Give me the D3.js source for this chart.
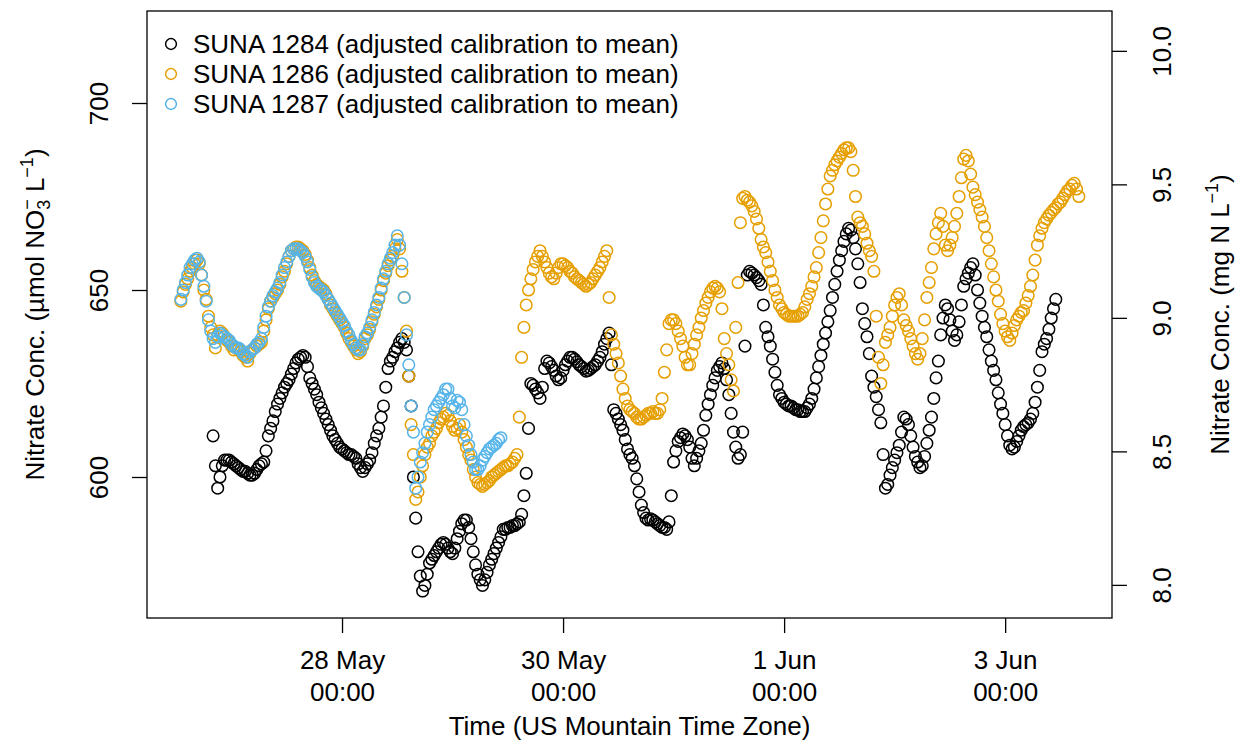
<!DOCTYPE html>
<html>
<head>
<meta charset="utf-8">
<script src="https://cdn.jsdelivr.net/npm/d3@7"></script>
<style>
	body { margin: 0; background: #fff; }
	text { font-family: "Liberation Sans", Arial, Helvetica, sans-serif; fill: #000; }
</style>
</head>
<body>
<script>
// half-hourly readings, umol NO3- per litre
var stepHours = 0.5;

var suna1284Start = '2019-05-26T20:00:00Z';
var suna1284 = [
	611, 603, 597, 600, 603, 604.5, 604.5, 604.5, 604, 603.5,
	603, 602.5, 602, 601.5, 601.5, 601, 600.5, 600.5, 601, 602,
	603, 603.5, 604, 607, 611, 613, 615, 617.5, 619.5, 621,
	622.5, 624, 625, 626, 627.5, 629, 630.5, 631.5, 632, 632.5,
	632, 629.5, 626.5, 625, 623.5, 622, 620, 618.5, 617, 615.5,
	614, 612.5, 611, 610, 609, 608, 607.5, 607, 606.5, 606,
	606, 605.5, 605, 603.5, 602.5, 601.5, 602.5, 603.5, 604.5, 606.5,
	609, 611, 613, 616, 619, 624, 629, 631, 632, 633.5,
	634.5, 636, 637, 636, 634, 627, 619, 600, 589, 580,
	573.5, 569.5, 571, 574, 577, 578, 579, 580, 581, 582,
	582.5, 582, 581, 580, 579.5, 581, 583.5, 585.5, 587.5, 588.5,
	588.5, 586.5, 583.5, 580, 576.5, 574, 572.5, 571, 572.5, 574.5,
	576.5, 578, 579.5, 581, 582.5, 584, 586, 586, 586.5, 586.5,
	587, 587, 587.5, 588, 590, 595, 601, 613, 625, 624.5,
	623.5, 622.5, 621, 624, 629, 631, 630.5, 629.5, 628.5, 627,
	626, 626.5, 628.5, 630, 631, 632, 632, 631.5, 630.8, 630,
	629.5, 629, 628.3, 628.5, 629, 629.5, 630, 631, 632, 633.5,
	635.5, 637, 638.5, 630, 618, 617, 615.5, 614, 612.5, 610,
	607.5, 606, 605, 603, 599.5, 596, 592.5, 590.5, 589, 588.5,
	588.8, 588.5, 588, 587.5, 587, 586.5, 586.5, 586, 588, 595,
	604, 607, 609.5, 610.5, 611.5, 611, 610, 608, 605, 603,
	605, 607, 609, 612.5, 616.5, 619.5, 622, 624.5, 626.5, 628.5,
	629.5, 630.5, 629, 626, 622, 617, 612, 608, 605, 606,
	612, 635, 654, 655, 654.5, 654, 653.3, 652.5, 651.5, 646,
	640, 637.5, 635, 631.5, 628, 624.5, 622, 621, 620, 619.5,
	619, 619, 618.5, 618, 618, 617.5, 617.5, 617.5, 618.5, 619.5,
	621, 623.5, 626.5, 629.5, 632.5, 635.5, 638.5, 641.5, 644.5, 648,
	651.5, 655, 658, 660.5, 663, 665, 666.5, 666, 664, 661,
	657, 652, 645, 641, 637.5, 633, 627, 624, 621.5, 618,
	614.5, 606, 597, 598, 600.5, 602.5, 604.5, 606.5, 608.5, 612,
	616, 615.5, 614, 611, 608, 605.5, 604, 602.5, 603, 605.5,
	609, 612.5, 616, 621, 626.5, 631, 638, 642.5, 646, 645,
	642, 639, 636.5, 638, 641.5, 646, 651, 653, 654.5, 656,
	657, 654, 650, 646.5, 643, 640, 637.5, 634, 631, 628.5,
	626, 622.5, 619.5, 617, 614, 611, 608.5, 607.5, 608, 609.5,
	611, 612.5, 613.5, 614, 614.5, 615.5, 617, 620, 624, 628.5,
	633.5, 635.5, 637, 639.5, 642.5, 645, 647.5
];

var suna1286Start = '2019-05-26T13:00:00Z';
var suna1286 = [
	647, 649.5, 651.5, 653, 655, 656, 657, 658, 657, 654,
	650, 647.5, 643, 640, 638, 634.5, 638, 639, 638.5, 637.5,
	636.5, 636, 635, 634, 634.5, 634, 633.5, 632.5, 632, 631,
	633, 634, 634.5, 635, 635.5, 636, 639, 642, 645, 647,
	648, 649, 650, 651.5, 653.5, 655, 657, 659, 660.5, 661,
	661.5, 661.5, 661, 660.5, 659.5, 658, 656, 654, 652.5, 651.5,
	651, 650.5, 650, 649, 647.5, 646, 645, 644, 643, 642,
	641, 640, 638.5, 637, 636, 635, 634, 633, 633.5, 635,
	637, 638, 639.5, 641.5, 643.5, 645.5, 647.5, 650, 652.5, 654.5,
	656.5, 658, 659, 661, 663.5, 661, 655, 648, 639, 627,
	614, 606, 594, 596, 600, 603, 606, 608, 609, 611,
	612, 613, 614.5, 615.5, 616, 617, 616.5, 615, 613.5, 612.5,
	613, 614, 612, 610, 608, 606, 604.5, 602, 600, 598.5,
	598, 597.5, 598, 598.5, 599, 600, 600.5, 601, 601.5, 602,
	602.5, 603, 603, 603.5, 604, 605, 606, 616, 632, 640,
	646, 650, 653, 655.5, 657.5, 659, 660.5, 659, 657.5, 656,
	654.5, 653.5, 653, 654.5, 656, 657, 657, 656.5, 656, 655,
	654.5, 653.5, 653, 652.5, 652, 651.5, 651, 651.5, 652, 653,
	654, 655, 656, 657.5, 659, 660.5, 648, 638, 635.5, 633,
	630.5, 627, 623.5, 621, 619, 618, 617.5, 617, 616, 615.5,
	615.5, 616, 616.5, 617, 617, 617.5, 617, 617, 618, 621,
	628, 634, 641, 642, 642, 641, 639, 637, 635, 632,
	630, 630, 633, 635.5, 638, 640, 642.5, 644.5, 646.5, 648,
	649.5, 650.5, 651, 650.5, 649.5, 645, 637, 633, 630, 626,
	623, 640, 652, 668, 674.5, 675, 674, 673.5, 672.5, 671,
	669, 666.5, 663.5, 661.5, 660, 657.5, 655, 652.5, 650, 648,
	646, 645, 644, 643.5, 643, 643, 643, 643, 643, 643.5,
	644, 645.5, 647.5, 649, 651, 653.5, 656, 660, 664, 668.5,
	673, 677, 680.5, 682, 683.5, 684.5, 685.5, 686.5, 687.5, 688,
	688, 687, 682, 675, 669.5, 668, 667, 665, 662.5, 660.5,
	659, 655, 643, 632, 625, 630, 636, 638, 640, 643,
	646, 648, 649, 646, 642, 640.5, 639, 637, 635, 633,
	631.5, 633, 637, 642, 648, 652, 656, 661, 665, 668,
	670.5, 667, 662, 660.5, 662, 664, 667, 670.5, 675, 680,
	685, 686, 684.5, 681, 677.5, 675.5, 673.5, 671.5, 669.5, 667,
	664, 660.5, 657, 653.5, 650, 647, 643.5, 641, 639, 637.5,
	636.5, 638.5, 640.5, 642, 643, 644, 644.5, 646.5, 648.5, 651,
	654, 658, 662, 664.5, 666.5, 668, 669, 670, 670.7, 671.5,
	672, 673, 673.5, 674.5, 675.5, 676.5, 677, 678, 678.5, 677,
	675
];

var suna1287Start = '2019-05-26T13:00:00Z';
var suna1287 = [
	647.5, 650, 652, 654, 656, 657, 658, 658.5, 657.5, 654,
	651, 647, 642, 639, 637, 636, 637.5, 638.5, 638, 637.5,
	637, 636.5, 635.5, 635, 634.5, 634.5, 634, 633, 632.5, 632,
	633.5, 634, 634.5, 635.5, 636, 637, 640, 643, 645.5, 647,
	648.5, 649.5, 650.5, 652, 654, 656, 657.5, 659, 660.5, 661,
	661, 661, 660.5, 660, 659, 657.5, 655.5, 653.5, 652, 651,
	650.5, 650, 649.5, 648.5, 647.5, 646.5, 645.5, 644.5, 643.5, 642.5,
	641.5, 640.5, 639, 638, 636.5, 635.5, 634.5, 634, 634, 635.5,
	637.5, 638.5, 640, 642, 644, 646, 648, 650.5, 653, 655,
	657, 658.5, 660, 662, 664.5, 662, 657, 648, 638, 630,
	619, 612, 597, 600, 604, 606.5, 609, 612, 614, 616,
	618, 619, 620, 621, 622, 623.5, 623.5, 621, 619, 618.5,
	620.5, 620, 618, 614, 611, 608.5, 606, 604, 602, 602,
	603, 604.5, 605.5, 606.5, 607.5, 608, 608.5, 609, 610, 610.5
];

var seriesNames = ['SUNA 1284 (adjusted calibration to mean)',
	'SUNA 1286 (adjusted calibration to mean)',
	'SUNA 1287 (adjusted calibration to mean)'];
var seriesColors = ['#000000', '#E69F00', '#56B4E9'];

var xLimits = ['2019-05-26T05:39:00Z', '2019-06-03T23:12:00Z'];
var xTicks = ['2019-05-28T00:00:00Z', '2019-05-30T00:00:00Z', '2019-06-01T00:00:00Z', '2019-06-03T00:00:00Z'];
var yLimits = [562.3, 724.6];
var yTicks = [600, 650, 700];
var mgTicks = [8.0, 8.5, 9.0, 9.5, 10.0];
var nMolarMass = 14.0067; // mg N per mmol

function toPoints(start, values){
	var t0 = new Date(start).getTime();
	var out = [];
	values.forEach(function(v, i){
		if(v == null) return;
		out.push({t: new Date(t0 + i * stepHours * 3600000), v: v});
	});
	return out;
}

var series = [
	toPoints(suna1284Start, suna1284),
	toPoints(suna1286Start, suna1286),
	toPoints(suna1287Start, suna1287)
];

var width = 1243;
var height = 744;
var box = {left: 147, right: 1112, top: 11, bottom: 618};
var fontSize = 26;
var tickLen = 15;

var svg = d3.select('body').append('svg')
	.attr('width', width).attr('height', height);

var x = d3.scaleUtc()
	.domain(xLimits.map(function(d){ return new Date(d); }))
	.range([box.left, box.right]);

var y = d3.scaleLinear()
	.domain(yLimits)
	.range([box.bottom, box.top]);

// points, drawn in series order so the last one ends up on top
series.forEach(function(pts, k){
	svg.append('g')
	.attr('class', 'series-' + k)
	.selectAll('circle').data(pts).enter().append('circle')
	.attr('cx', function(d){ return x(d.t); })
	.attr('cy', function(d){ return y(d.v); })
	.attr('r', 5.8)
	.attr('fill', 'none')
	.attr('stroke', seriesColors[k])
	.attr('stroke-width', 1.5);
});

// frame
svg.append('rect')
	.attr('x', box.left).attr('y', box.top)
	.attr('width', box.right - box.left)
	.attr('height', box.bottom - box.top)
	.attr('fill', 'none')
	.attr('stroke', '#000')
	.attr('stroke-width', 1.3);

// bottom axis
var xAxis = d3.axisBottom(x)
	.tickValues(xTicks.map(function(d){ return new Date(d); }))
	.tickSize(tickLen)
	.tickFormat('');
var gx = svg.append('g')
	.attr('transform', 'translate(0,' + box.bottom + ')')
	.call(xAxis);
gx.select('.domain').remove();
gx.selectAll('line').attr('stroke-width', 1.3);

var fmtDay = d3.utcFormat('%-d %b');
var fmtTime = d3.utcFormat('%H:%M');
gx.selectAll('.tick').each(function(d){
	var t = d3.select(this);
	t.append('text')
	.attr('y', 51).attr('text-anchor', 'middle')
	.attr('font-size', fontSize)
	.text(fmtDay(d));
	t.append('text')
	.attr('y', 83).attr('text-anchor', 'middle')
	.attr('font-size', fontSize)
	.text(fmtTime(d));
});

// left axis
var yAxis = d3.axisLeft(y)
	.tickValues(yTicks)
	.tickSize(tickLen)
	.tickFormat('');
var gy = svg.append('g')
	.attr('transform', 'translate(' + box.left + ',0)')
	.call(yAxis);
gy.select('.domain').remove();
gy.selectAll('line').attr('stroke-width', 1.3);
gy.selectAll('.tick').append('text')
	.attr('transform', 'translate(-39,0) rotate(-90)')
	.attr('text-anchor', 'middle')
	.attr('font-size', fontSize)
	.text(function(d){ return d; });

// right axis, same data in mg N per litre
var yMg = d3.scaleLinear()
	.domain(yLimits.map(function(v){ return v * nMolarMass / 1000; }))
	.range([box.bottom, box.top]);
var rAxis = d3.axisRight(yMg)
	.tickValues(mgTicks)
	.tickSize(tickLen)
	.tickFormat('');
var gr = svg.append('g')
	.attr('transform', 'translate(' + box.right + ',0)')
	.call(rAxis);
gr.select('.domain').remove();
gr.selectAll('line').attr('stroke-width', 1.3);
gr.selectAll('.tick').append('text')
	.attr('transform', 'translate(59,0) rotate(-90)')
	.attr('text-anchor', 'middle')
	.attr('font-size', fontSize)
	.text(d3.format('.1f'));

// axis titles
var midY = (box.top + box.bottom) / 2;
svg.append('text')
	.attr('x', (box.left + box.right) / 2).attr('y', 735)
	.attr('text-anchor', 'middle')
	.attr('font-size', fontSize)
	.text('Time (US Mountain Time Zone)');

var lt = svg.append('text')
	.attr('transform', 'translate(44,' + midY + ') rotate(-90)')
	.attr('text-anchor', 'middle')
	.attr('font-size', fontSize);
lt.append('tspan').text('Nitrate Conc. (\u00b5mol NO');
lt.append('tspan').attr('dy', 6).attr('font-size', 18).text('3');
lt.append('tspan').attr('dx', -10).attr('dy', -17).attr('font-size', 18).text('\u2212');
lt.append('tspan').attr('dy', 11).text(' L');
lt.append('tspan').attr('dy', -11).attr('font-size', 18).text('\u22121');
lt.append('tspan').attr('dy', 11).text(')');

var rt = svg.append('text')
	.attr('transform', 'translate(1229,' + midY + ') rotate(-90)')
	.attr('text-anchor', 'middle')
	.attr('font-size', fontSize);
rt.append('tspan').text('Nitrate Conc. (mg N L');
rt.append('tspan').attr('dy', -11).attr('font-size', 18).text('\u22121');
rt.append('tspan').attr('dy', 11).text(')');

// legend
var legend = svg.append('g').attr('class', 'legend');
var legendRows = legend.selectAll('g').data(seriesNames).enter().append('g')
	.attr('transform', function(d, i){
		return 'translate(' + [171, 44 + i * 30] + ')';
	});
legendRows.append('circle')
	.attr('r', 5.4)
	.attr('fill', 'none')
	.attr('stroke', function(d, i){ return seriesColors[i]; })
	.attr('stroke-width', 1.5);
legendRows.append('text')
	.attr('x', 22).attr('y', 9)
	.attr('font-size', fontSize)
	.text(function(d){ return d; });
</script>
</body>
</html>
